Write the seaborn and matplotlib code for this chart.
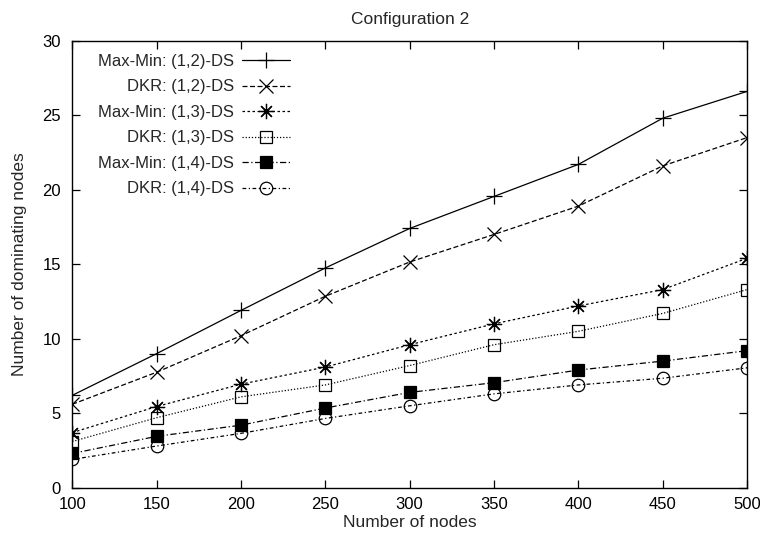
import numpy as np
import pandas as pd
import matplotlib
matplotlib.use("Agg")
import matplotlib.pyplot as plt
import seaborn as sns

nodes = [100, 150, 200, 250, 300, 350, 400, 450, 500]

maxmin_12 = [6.2, 9.0, 11.9, 14.75, 17.4, 19.55, 21.7, 24.8, 26.6]
dkr_12 = [5.6, 7.75, 10.2, 12.85, 15.15, 17.0, 18.9, 21.6, 23.5]
maxmin_13 = [3.7, 5.45, 6.95, 8.1, 9.6, 11.0, 12.2, 13.3, 15.4]
dkr_13 = [3.1, 4.7, 6.1, 6.9, 8.2, 9.6, 10.5, 11.7, 13.3]
maxmin_14 = [2.3, 3.45, 4.2, 5.35, 6.4, 7.05, 7.9, 8.5, 9.2]
dkr_14 = [1.9, 2.8, 3.65, 4.65, 5.5, 6.3, 6.9, 7.35, 8.05]

labels = ["Max-Min: (1,2)-DS", "DKR: (1,2)-DS", "Max-Min: (1,3)-DS",
          "DKR: (1,3)-DS", "Max-Min: (1,4)-DS", "DKR: (1,4)-DS"]
series = [maxmin_12, dkr_12, maxmin_13, dkr_13, maxmin_14, dkr_14]

# gnuplot-like point/line styles
styles = [
    dict(marker="+", ms=11, mfc="none", dashes=()),
    dict(marker="x", ms=10, mfc="none", dashes=(4, 2)),
    dict(marker=(8, 2, 0), ms=11, mfc="none", dashes=(2, 2)),
    dict(marker="s", ms=9, mfc="none", dashes=(1, 1.5)),
    dict(marker="s", ms=9, mfc="k", dashes=(5, 2, 1, 2)),
    dict(marker="o", ms=9, mfc="none", dashes=(3, 2, 1, 2)),
]

sns.set_style("ticks")
plt.rcParams["font.family"] = ["Liberation Sans", "DejaVu Sans"]
plt.rcParams["font.size"] = 12

fig = plt.figure(figsize=(7.6, 5.36), dpi=100)
ax = fig.add_axes([0.095, 0.09, 0.888, 0.834])

for lab, vals, st in zip(labels, series, styles):
    df = pd.DataFrame({"n": nodes, "v": vals})
    kw = dict(color="k", lw=0.9, marker=st["marker"], markersize=st["ms"],
              markerfacecolor=st["mfc"], markeredgecolor="k", markeredgewidth=0.9)
    if st["dashes"]:
        kw["dashes"] = st["dashes"]
    else:
        kw["linestyle"] = "-"
    sns.lineplot(data=df, x="n", y="v", ax=ax, label=lab, **kw)

ax.set_xlim(100, 500)
ax.set_ylim(0, 30)
ax.set_xticks(np.arange(100, 501, 50))
ax.set_yticks(np.arange(0, 31, 5))
ax.tick_params(direction="in", length=6, width=0.9, top=True, right=True,
               labelsize=12, colors="k")
ax.tick_params(axis="x", pad=7)
ax.tick_params(axis="y", pad=8)
for sp in ax.spines.values():
    sp.set_visible(True)
    sp.set_linewidth(1.0)
    sp.set_color("k")

ax.set_xlabel("Number of nodes", fontsize=12.5, labelpad=2)
ax.set_ylabel("Number of dominating nodes", fontsize=12.5, labelpad=11)
ax.set_title("Configuration 2", fontsize=12.5, pad=12)

leg = ax.legend(loc="upper left", bbox_to_anchor=(0.033, 0.978), markerfirst=False,
                frameon=False, handlelength=2.9, labelspacing=0.63,
                fontsize=12, handletextpad=0.5, borderaxespad=0.0, borderpad=0.2)
for t in leg.get_texts():
    t.set_ha("right")
leg._legend_box.align = "right"

fig.savefig("out.png", dpi=100)
